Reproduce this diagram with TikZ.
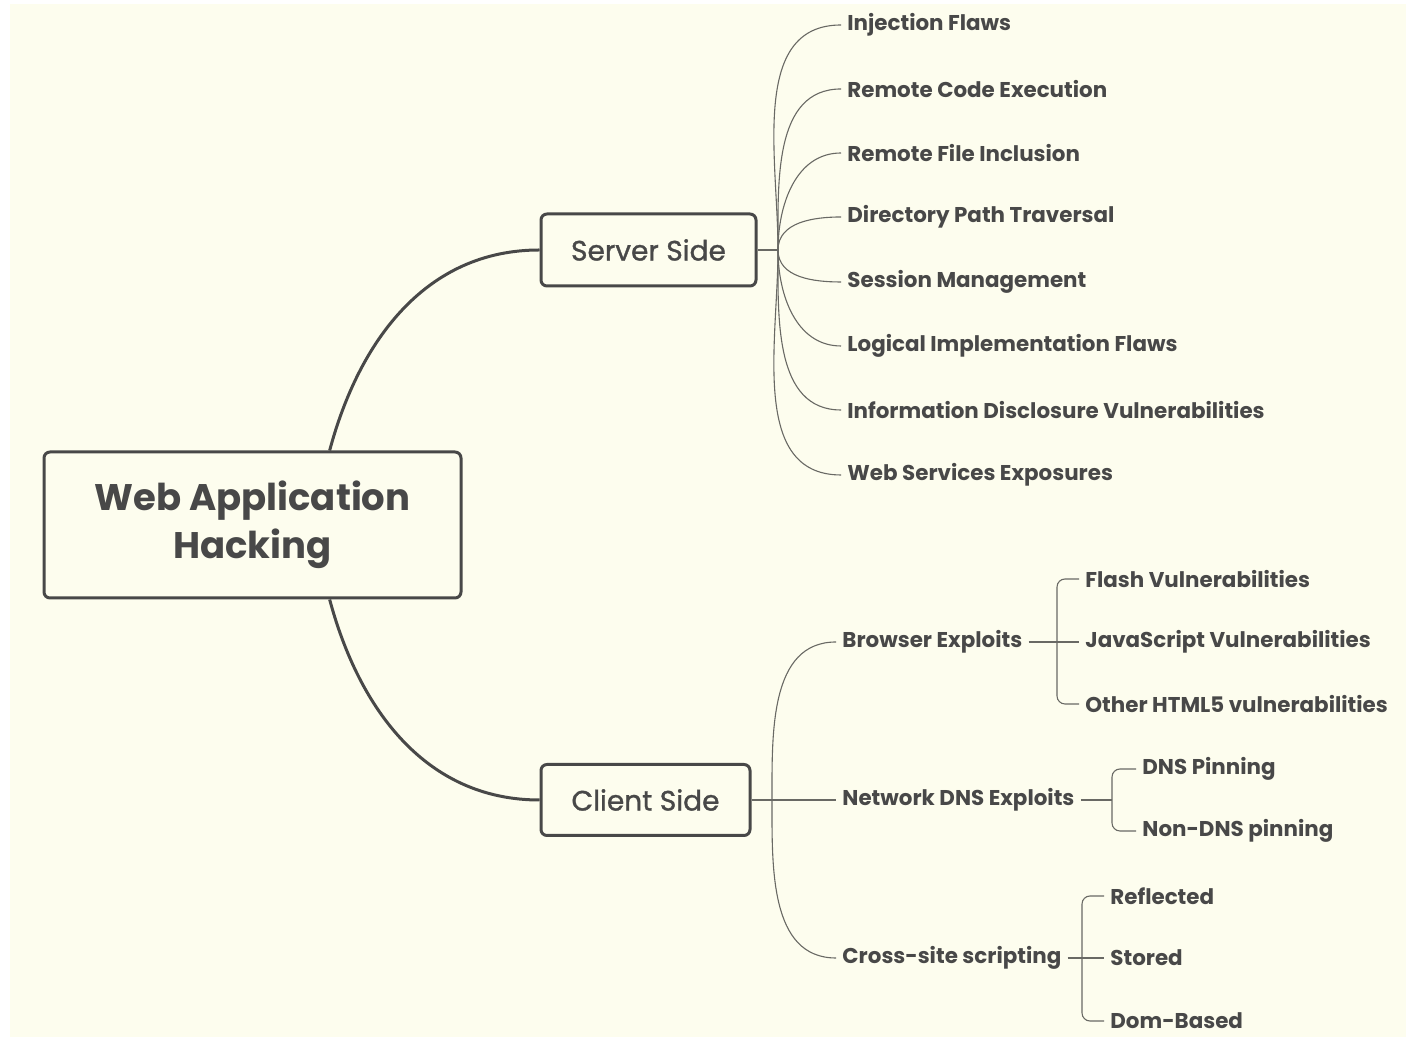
\documentclass[tikz,border=0pt]{standalone}
\usepackage{fontspec}
\setmainfont{Poppins}
\newfontfamily\boxfont{Poppins}[FakeBold=1.2]
\definecolor{cream}{RGB}{253,253,238}
\definecolor{ink}{RGB}{72,72,72}
\definecolor{twigc}{RGB}{105,105,100}

\begin{document}
\begin{tikzpicture}[x=0.5pt, y=0.5pt, ink,
    box/.style={draw=ink, line width=1.5pt, rounded corners=3pt, fill=cream, text=ink},
    leaf/.style={anchor=west, inner xsep=3pt, inner ysep=1pt, text=ink, font=\bfseries\fontsize{10.7}{12}\selectfont},
    twig/.style={draw=twigc, line width=0.55pt}]
    \useasboundingbox (0,0) rectangle (1406,1037);
    \fill[white] (0,0) rectangle (1406,1037);
    \fill[cream] (10,0) rectangle (1406,1033);
    \newcommand\XS{841}
    \newcommand\XC{836}
    \newcommand\YS{787}
    \newcommand\YC{237}
    \node[box, minimum width=208.5pt, minimum height=73pt, align=center, font=\bfseries\fontsize{18.5}{24}\selectfont] (R) at (252.5, 512){Web Application\\Hacking};
    \node[box, minimum width=107.5pt, minimum height=36pt, font=\boxfont\fontsize{14}{16}\selectfont] (S) at (648.5, \YS){Server Side};
    \node[box, minimum width=104.5pt, minimum height=35.5pt, font=\boxfont\fontsize{14}{16}\selectfont] (C) at (645.5, \YC){Client Side};
    \coordinate (SH) at (778, \YS);
    \coordinate (CH) at (772, \YC);
    \node[leaf] (S0) at (\XS, 1012){Injection Flaws};
    \node[leaf] (S1) at (\XS, 948){Remote Code Execution};
    \node[leaf] (S2) at (\XS, 884){Remote File Inclusion};
    \node[leaf] (S3) at (\XS, 820){Directory Path Traversal};
    \node[leaf] (S4) at (\XS, 755){Session Management};
    \node[leaf] (S5) at (\XS, 691){Logical Implementation Flaws};
    \node[leaf] (S6) at (\XS, 627){Information Disclosure Vulnerabilities};
    \node[leaf] (S7) at (\XS, 562){Web Services Exposures};
    \node[leaf] (B) at (\XC, 395){Browser Exploits};
    \node[leaf] (N) at (\XC, \YC){Network DNS Exploits};
    \node[leaf] (X) at (\XC, 79){Cross-site scripting};
    \node[leaf] (B0) at (1079, 458){Flash Vulnerabilities};
    \node[leaf] (B1) at (1079, 395){JavaScript Vulnerabilities};
    \node[leaf] (B2) at (1079, 333){Other HTML5 vulnerabilities};
    \node[leaf] (N0) at (1136, 268){DNS Pinning};
    \node[leaf] (N1) at (1136, 206){Non-DNS pinning};
    \node[leaf] (X0) at (1104, 141){Reflected};
    \node[leaf] (X1) at (1104, 79){Stored};
    \node[leaf] (X2) at (1104, 16){Dom-Based};
    \coordinate (BH) at (1057, 395);
    \coordinate (NH) at (1112, \YC);
    \coordinate (XH) at (1082, 79);
    \draw[draw=ink, line width=1.5pt] (R.44) to[out=75, in=180] (S.west);
    \draw[draw=ink, line width=1.5pt] (R.-44) to[out=-75, in=180] (C.west);
    \draw[twig] (S.east) -- (SH);
    \draw[twig] (SH) to[out=90, in=180] (S0.west);
    \draw[twig] (SH) to[out=90, in=180] (S1.west);
    \draw[twig] (SH) to[out=90, in=180] (S2.west);
    \draw[twig] (SH) to[out=90, in=180] (S3.west);
    \draw[twig] (SH) to[out=-90, in=180] (S4.west);
    \draw[twig] (SH) to[out=-90, in=180] (S5.west);
    \draw[twig] (SH) to[out=-90, in=180] (S6.west);
    \draw[twig] (SH) to[out=-90, in=180] (S7.west);
    \draw[twig] (C.east) -- (N.west);
    \draw[twig] (CH) to[out=90, in=180] (B.west);
    \draw[twig] (CH) to[out=-90, in=180] (X.west);
    \draw[twig] (B.east) -- (B1.west);
    \draw[twig, rounded corners=4pt] (BH) |- (B0.west);
    \draw[twig, rounded corners=4pt] (BH) |- (B2.west);
    \draw[twig] (N.east) -- (NH);
    \draw[twig, rounded corners=4pt] (NH) |- (N0.west);
    \draw[twig, rounded corners=4pt] (NH) |- (N1.west);
    \draw[twig] (X.east) -- (X1.west);
    \draw[twig, rounded corners=4pt] (XH) |- (X0.west);
    \draw[twig, rounded corners=4pt] (XH) |- (X2.west);
\end{tikzpicture}
\end{document}
